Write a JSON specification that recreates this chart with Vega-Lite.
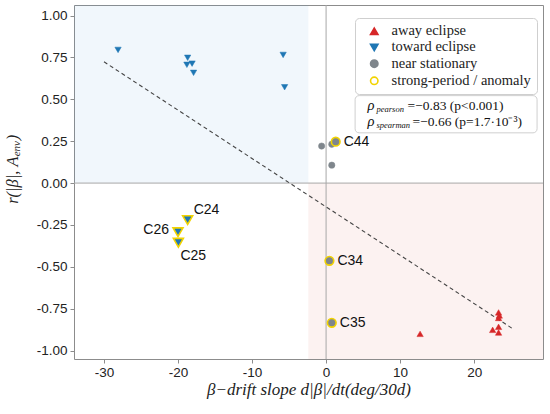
{
  "$schema": "https://vega.github.io/schema/vega-lite/v6.json",
  "width": 469,
  "height": 354,
  "autosize": {"type": "none"},
  "padding": {"left": 74, "top": 5, "right": 7, "bottom": 55},
  "background": "white",
  "config": {
    "view": {"stroke": "#8c8c8c", "strokeWidth": 1},
    "axis": {
      "labelFont": "Liberation Sans", "labelFontSize": 13.5, "labelColor": "#222",
      "gridColor": "#e6e6e6", "gridWidth": 0.8, "domain": false,
      "tickColor": "#8c8c8c", "tickSize": 4,
      "titleFont": "Liberation Serif", "titleFontStyle": "italic", "titleFontWeight": "normal",
      "titleFontSize": 17, "titleColor": "#222"
    }
  },
  "datasets": {
    "pts": [
      {"x": 12.7, "y": -0.90, "cat": "away eclipse", "anomaly": false, "label": ""},
      {"x": 23.3, "y": -0.772, "cat": "away eclipse", "anomaly": false, "label": ""},
      {"x": 23.4, "y": -0.79, "cat": "away eclipse", "anomaly": false, "label": ""},
      {"x": 23.3, "y": -0.805, "cat": "away eclipse", "anomaly": false, "label": ""},
      {"x": 23.3, "y": -0.858, "cat": "away eclipse", "anomaly": false, "label": ""},
      {"x": 22.5, "y": -0.876, "cat": "away eclipse", "anomaly": false, "label": ""},
      {"x": 23.3, "y": -0.892, "cat": "away eclipse", "anomaly": false, "label": ""},
      {"x": -28.1, "y": 0.795, "cat": "toward eclipse", "anomaly": false, "label": ""},
      {"x": -18.7, "y": 0.748, "cat": "toward eclipse", "anomaly": false, "label": ""},
      {"x": -18.8, "y": 0.706, "cat": "toward eclipse", "anomaly": false, "label": ""},
      {"x": -18.1, "y": 0.713, "cat": "toward eclipse", "anomaly": false, "label": ""},
      {"x": -17.9, "y": 0.658, "cat": "toward eclipse", "anomaly": false, "label": ""},
      {"x": -5.8, "y": 0.765, "cat": "toward eclipse", "anomaly": false, "label": ""},
      {"x": -5.6, "y": 0.572, "cat": "toward eclipse", "anomaly": false, "label": ""},
      {"x": -0.6, "y": 0.221, "cat": "near stationary", "anomaly": false, "label": ""},
      {"x": 0.77, "y": 0.232, "cat": "near stationary", "anomaly": false, "label": ""},
      {"x": 0.77, "y": 0.107, "cat": "near stationary", "anomaly": false, "label": ""},
      {"x": -18.7, "y": -0.221, "cat": "toward eclipse", "anomaly": true, "label": "C24"},
      {"x": -20.0, "y": -0.293, "cat": "toward eclipse", "anomaly": true, "label": "C26"},
      {"x": -19.95, "y": -0.356, "cat": "toward eclipse", "anomaly": true, "label": "C25"},
      {"x": 1.3, "y": 0.247, "cat": "near stationary", "anomaly": true, "label": "C44"},
      {"x": 0.45, "y": -0.464, "cat": "near stationary", "anomaly": true, "label": "C34"},
      {"x": 0.77, "y": -0.834, "cat": "near stationary", "anomaly": true, "label": "C35"}
    ],
    "fit": [
      {"x": -30, "y": 0.724},
      {"x": 25.3, "y": -0.872}
    ],
    "one": [{}]
  },
  "encoding": {
    "x": {
      "type": "quantitative",
      "scale": {"domain": [-34.05, 29.3], "nice": false, "zero": false},
      "axis": {
        "values": [-30, -20, -10, 0, 10, 20],
        "labelExpr": "replace(format(datum.value, 'd'), '\u2212', '-')",
        "title": "β−drift  slope  d|β|/dt(deg/30d)",
        "titlePadding": 3
      }
    },
    "y": {
      "type": "quantitative",
      "scale": {"domain": [-1.05, 1.063], "nice": false, "zero": false},
      "axis": {
        "values": [-1, -0.75, -0.5, -0.25, 0, 0.25, 0.5, 0.75, 1],
        "labelExpr": "replace(format(datum.value, '.2f'), '\u2212', '-')",
        "labelPadding": 3,
        "title": null
      }
    }
  },
  "layer": [
    {
      "data": {"name": "one"},
      "mark": {"type": "rect", "color": "#4a9ad6", "opacity": 0.08},
      "encoding": {"x": {"datum": -34.05}, "x2": {"datum": -2.4}, "y": {"datum": 0}, "y2": {"datum": 1.063}}
    },
    {
      "data": {"name": "one"},
      "mark": {"type": "rect", "color": "#d9463a", "opacity": 0.07},
      "encoding": {"x": {"datum": -2.4}, "x2": {"datum": 29.3}, "y": {"datum": -1.05}, "y2": {"datum": 0}}
    },
    {
      "data": {"name": "one"},
      "mark": {"type": "rule", "color": "#a8a8a8", "strokeWidth": 1},
      "encoding": {"x": {"datum": 0}}
    },
    {
      "data": {"name": "one"},
      "mark": {"type": "rule", "color": "#a8a8a8", "strokeWidth": 1},
      "encoding": {"y": {"datum": 0}}
    },
    {
      "data": {"name": "fit"},
      "mark": {"type": "line", "color": "#444", "strokeWidth": 1.1, "strokeDash": [4, 3]},
      "encoding": {"x": {"field": "x", "type": "quantitative"}, "y": {"field": "y", "type": "quantitative"}}
    },
    {
      "data": {"name": "pts"},
      "transform": [{"filter": "!datum.anomaly"}],
      "mark": {"type": "point", "filled": true, "size": 40, "opacity": 1, "strokeWidth": 0.5},
      "encoding": {
        "x": {"field": "x", "type": "quantitative"},
        "y": {"field": "y", "type": "quantitative"},
        "fill": {
          "field": "cat", "type": "nominal",
          "scale": {"domain": ["away eclipse", "toward eclipse", "near stationary", "strong-period / anomaly"],
                    "range": ["#d62728", "#1f77b4", "#7f868c", "transparent"]},
          "legend": {
            "title": null, "orient": "none", "legendX": 281, "legendY": 13,
            "fillColor": "white", "strokeColor": "#cfcfcf", "cornerRadius": 4,
            "padding": 6, "labelFont": "Liberation Serif", "labelFontSize": 14.5, "labelColor": "#222",
            "symbolSize": 55, "symbolStrokeWidth": 1.6, "labelOffset": 10, "rowPadding": 1.2,
            "symbolOffset": 6
          }
        },
        "stroke": {
          "field": "cat", "type": "nominal",
          "scale": {"domain": ["away eclipse", "toward eclipse", "near stationary", "strong-period / anomaly"],
                    "range": ["#d62728", "#1f77b4", "#7f868c", "#f2d300"]}
        },
        "shape": {
          "field": "cat", "type": "nominal",
          "scale": {"domain": ["away eclipse", "toward eclipse", "near stationary", "strong-period / anomaly"],
                    "range": ["triangle-up", "triangle-down", "circle", "circle"]}
        }
      }
    },
    {
      "data": {"name": "pts"},
      "transform": [{"filter": "datum.anomaly && datum.cat == 'toward eclipse'"}],
      "mark": {"type": "point", "filled": true, "shape": "triangle-down", "size": 100, "fill": "#1f77b4", "stroke": "#f2d300", "strokeWidth": 1.6, "opacity": 1},
      "encoding": {"x": {"field": "x", "type": "quantitative"}, "y": {"field": "y", "type": "quantitative"}}
    },
    {
      "data": {"name": "pts"},
      "transform": [{"filter": "datum.anomaly && datum.cat == 'near stationary'"}],
      "mark": {"type": "point", "filled": true, "shape": "circle", "size": 75, "fill": "#7f868c", "stroke": "#f2d300", "strokeWidth": 1.6, "opacity": 1},
      "encoding": {"x": {"field": "x", "type": "quantitative"}, "y": {"field": "y", "type": "quantitative"}}
    },
    {
      "data": {"name": "pts"},
      "transform": [{"filter": "datum.label == 'C44' || datum.label == 'C34' || datum.label == 'C35'"}],
      "mark": {"type": "text", "align": "left", "baseline": "middle", "dx": 8, "font": "Liberation Sans", "fontSize": 14, "color": "#111"},
      "encoding": {"x": {"field": "x", "type": "quantitative"}, "y": {"field": "y", "type": "quantitative"}, "text": {"field": "label"}}
    },
    {
      "data": {"name": "pts"},
      "transform": [{"filter": "datum.label == 'C24'"}],
      "mark": {"type": "text", "align": "left", "baseline": "middle", "dx": 6, "dy": -10, "font": "Liberation Sans", "fontSize": 14, "color": "#111"},
      "encoding": {"x": {"field": "x", "type": "quantitative"}, "y": {"field": "y", "type": "quantitative"}, "text": {"field": "label"}}
    },
    {
      "data": {"name": "pts"},
      "transform": [{"filter": "datum.label == 'C26'"}],
      "mark": {"type": "text", "align": "right", "baseline": "middle", "dx": -9, "dy": -2, "font": "Liberation Sans", "fontSize": 14, "color": "#111"},
      "encoding": {"x": {"field": "x", "type": "quantitative"}, "y": {"field": "y", "type": "quantitative"}, "text": {"field": "label"}}
    },
    {
      "data": {"name": "pts"},
      "transform": [{"filter": "datum.label == 'C25'"}],
      "mark": {"type": "text", "align": "left", "baseline": "middle", "dx": 2, "dy": 13, "font": "Liberation Sans", "fontSize": 14, "color": "#111"},
      "encoding": {"x": {"field": "x", "type": "quantitative"}, "y": {"field": "y", "type": "quantitative"}, "text": {"field": "label"}}
    },
    {
      "data": {"name": "one"},
      "mark": {"type": "rect", "fill": "white", "stroke": "#cfcfcf", "strokeWidth": 1, "cornerRadius": 4},
      "encoding": {"x": {"datum": 3.92}, "x2": {"datum": 28.5}, "y": {"datum": 0.522}, "y2": {"datum": 0.3}}
    },
    {
      "data": {"name": "one"},
      "mark": {"type": "text", "align": "left", "baseline": "middle", "font": "Liberation Serif", "fontStyle": "italic", "fontSize": 14.5, "color": "#111"},
      "encoding": {"x": {"datum": 5.6}, "y": {"datum": 0.46}, "text": {"value": "ρ"}}
    },
    {
      "data": {"name": "one"},
      "mark": {"type": "text", "align": "left", "baseline": "middle", "font": "Liberation Serif", "fontStyle": "italic", "fontSize": 8.5, "dx": 9, "dy": 3, "color": "#111"},
      "encoding": {"x": {"datum": 5.6}, "y": {"datum": 0.46}, "text": {"value": "pearson"}}
    },
    {
      "data": {"name": "one"},
      "mark": {"type": "text", "align": "left", "baseline": "middle", "font": "Liberation Serif", "fontSize": 13.5, "dx": 40, "color": "#111"},
      "encoding": {"x": {"datum": 5.6}, "y": {"datum": 0.46}, "text": {"value": "=−0.83  (p<0.001)"}}
    },
    {
      "data": {"name": "one"},
      "mark": {"type": "text", "align": "left", "baseline": "middle", "font": "Liberation Serif", "fontStyle": "italic", "fontSize": 14.5, "color": "#111"},
      "encoding": {"x": {"datum": 5.6}, "y": {"datum": 0.365}, "text": {"value": "ρ"}}
    },
    {
      "data": {"name": "one"},
      "mark": {"type": "text", "align": "left", "baseline": "middle", "font": "Liberation Serif", "fontStyle": "italic", "fontSize": 8.5, "dx": 9, "dy": 3, "color": "#111"},
      "encoding": {"x": {"datum": 5.6}, "y": {"datum": 0.365}, "text": {"value": "spearman"}}
    },
    {
      "data": {"name": "one"},
      "mark": {"type": "text", "align": "left", "baseline": "middle", "font": "Liberation Serif", "fontSize": 13.5, "dx": 45, "color": "#111"},
      "encoding": {"x": {"datum": 5.6}, "y": {"datum": 0.365}, "text": {"value": "=−0.66  (p=1.7·10⁻³)"}}
    },
    {
      "data": {"name": "one"},
      "mark": {"type": "text", "align": "right", "baseline": "middle", "angle": 270, "font": "Liberation Serif", "fontStyle": "italic", "fontSize": 16.5, "color": "#222", "clip": false},
      "encoding": {"x": {"datum": -42.3}, "y": {"datum": 0.16}, "text": {"value": "r(|β|, A"}}
    },
    {
      "data": {"name": "one"},
      "mark": {"type": "text", "align": "left", "baseline": "middle", "angle": 270, "font": "Liberation Serif", "fontStyle": "italic", "fontSize": 11, "dy": 4, "color": "#222", "clip": false},
      "encoding": {"x": {"datum": -42.3}, "y": {"datum": 0.16}, "text": {"value": "env"}}
    },
    {
      "data": {"name": "one"},
      "mark": {"type": "text", "align": "left", "baseline": "middle", "angle": 270, "font": "Liberation Serif", "fontStyle": "italic", "fontSize": 16.5, "dx": 16, "color": "#222", "clip": false},
      "encoding": {"x": {"datum": -42.3}, "y": {"datum": 0.16}, "text": {"value": ")"}}
    }
  ]
}
